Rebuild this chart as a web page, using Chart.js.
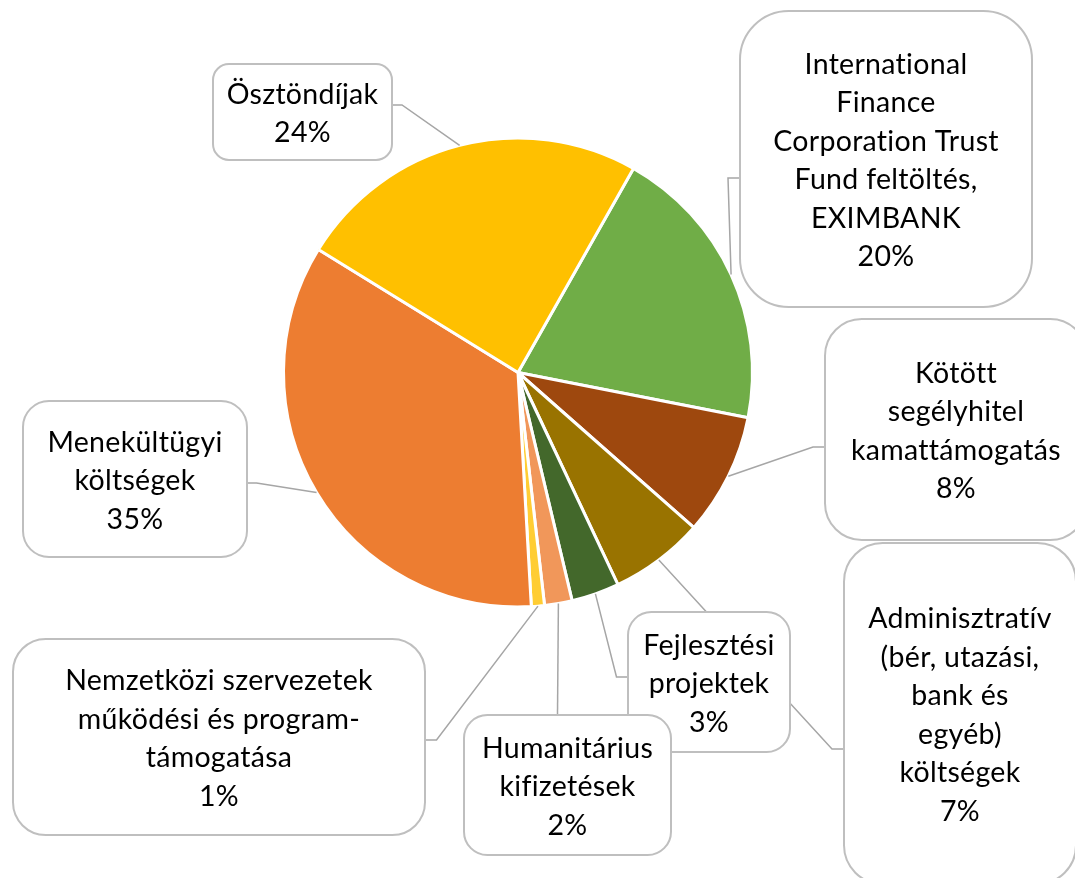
<!DOCTYPE html>
<html>
<head>
<meta charset="utf-8">
<script src="https://cdn.jsdelivr.net/npm/chart.js@4"></script>
<style>
  html, body { margin: 0; padding: 0; background: #fff; }
  #wrap { width: 1075px; height: 878px; position: relative; }
</style>
</head>
<body>
<div id="wrap"><canvas id="pieChart"></canvas></div>
<script>
// data (share of total, %)
const categories = [
    'International\nFinance\nCorporation Trust\nFund feltöltés,\nEXIMBANK',
    'Kötött\nsegélyhitel\nkamattámogatás',
    'Adminisztratív\n(bér, utazási,\nbank és\negyéb)\nköltségek',
    'Fejlesztési\nprojektek',
    'Humanitárius\nkifizetések',
    'Nemzetközi szervezetek\nműködési és program-\ntámogatása',
    'Menekültügyi\nköltségek',
    'Ösztöndíjak'
];
const values = [19.9, 8.4, 6.5, 3.3, 1.9, 0.9, 34.7, 24.4];
const colors = ['#70AD47', '#9E480E', '#997300', '#43682B', '#F1975A', '#FFCD33', '#ED7D31', '#FFC000'];

// callout boxes + elbow of the leader line (layout only)
const callouts = [
    { box: [740, 11, 1032, 307],  via: [[728, 178], [740, 178]] },
    { box: [825, 319, 1087, 540], via: [[813, 447], [825, 447]] },
    { box: [844, 543, 1076, 884], via: [[832, 749], [844, 749]] },
    { box: [628, 612, 790, 752],  via: [[616.5, 677], [628, 677]] },
    { box: [464, 715, 671, 855],  via: [[557.5, 715]] },
    { box: [13, 639, 425, 835],   via: [[436.5, 740], [425, 740]] },
    { box: [23, 401, 247, 557],   via: [[256.5, 483], [247, 483]] },
    { box: [213, 64, 392, 160],   via: [[402, 105], [392, 105]] }
];

const FONT = '28.5px Lato, "Open Sans", sans-serif';
const LINE_H = 38.5;

function roundRect(ctx, x1, y1, x2, y2, r) {
    ctx.beginPath();
    ctx.moveTo(x1 + r, y1);
    ctx.arcTo(x2, y1, x2, y2, r);
    ctx.arcTo(x2, y2, x1, y2, r);
    ctx.arcTo(x1, y2, x1, y1, r);
    ctx.arcTo(x1, y1, x2, y1, r);
    ctx.closePath();
}

const calloutPlugin = {
    id: 'callouts',
    afterDatasetsDraw(chart) {
        const ctx = chart.ctx;
        const arcs = chart.getDatasetMeta(0).data;
        const total = values.reduce((a, b) => a + b, 0);
        ctx.save();
        // leader lines first, boxes cover them
        ctx.strokeStyle = '#A6A6A6';
        ctx.lineWidth = 1.5;
        arcs.forEach((arc, i) => {
            const p = arc.getProps(['x', 'y', 'startAngle', 'endAngle', 'outerRadius'], true);
            const mid = (p.startAngle + p.endAngle) / 2;
            const ax = p.x + Math.cos(mid) * p.outerRadius;
            const ay = p.y + Math.sin(mid) * p.outerRadius;
            ctx.beginPath();
            ctx.moveTo(ax, ay);
            callouts[i].via.forEach(pt => ctx.lineTo(pt[0], pt[1]));
            ctx.stroke();
        });
        arcs.forEach((arc, i) => {
            const [x1, y1, x2, y2] = callouts[i].box;
            const r = Math.min(x2 - x1, y2 - y1) / 6;
            roundRect(ctx, x1, y1, x2, y2, r);
            ctx.fillStyle = '#fff';
            ctx.fill();
            ctx.strokeStyle = '#BFBFBF';
            ctx.lineWidth = 2;
            ctx.stroke();

            const lines = categories[i].split('\n');
            lines.push(Math.round(values[i] / total * 100) + '%');
            const cx = (x1 + x2) / 2, cy = (y1 + y2) / 2;
            const n = lines.length;
            ctx.fillStyle = '#000';
            ctx.font = FONT;
            ctx.letterSpacing = '0.3px'; // also stops the tt / fi ligatures
            ctx.textAlign = 'center';
            ctx.textBaseline = 'alphabetic';
            lines.forEach((t, k) => {
                ctx.fillText(t, cx, cy + (k - (n - 1) / 2) * LINE_H + 11);
            });
        });
        ctx.restore();
    }
};

const ctx = document.getElementById('pieChart').getContext('2d');
new Chart(ctx, {
    type: 'pie',
    data: {
        labels: categories,
        datasets: [{
            data: values,
            backgroundColor: colors,
            borderColor: '#ffffff',
            borderWidth: 3,
            hoverOffset: 0
        }]
    },
    options: {
        responsive: true,
        maintainAspectRatio: false,
        animation: false,
        rotation: 29.5,
        radius: 234.5,
        layout: { padding: { left: 283.5, right: 322.5, top: 138, bottom: 271 } },
        plugins: {
            legend: { display: false },
            tooltip: { enabled: false }
        }
    },
    plugins: [calloutPlugin]
});
</script>
</body>
</html>
